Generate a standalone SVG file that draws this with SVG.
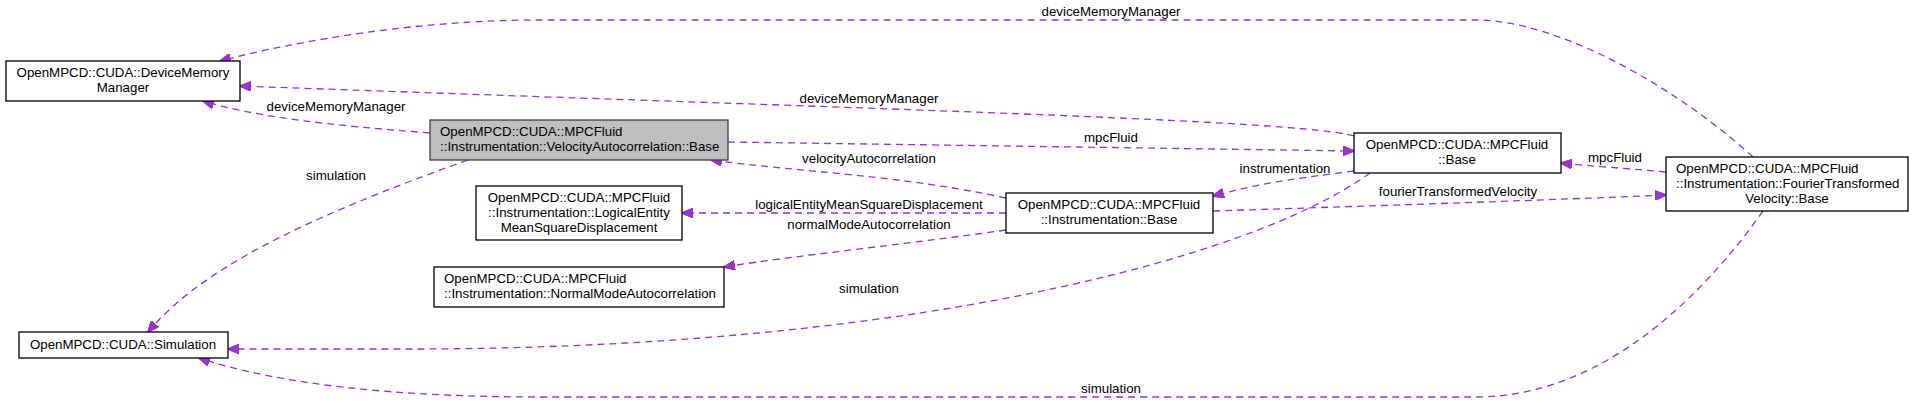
<svg xmlns="http://www.w3.org/2000/svg" width="1913" height="403" viewBox="0 0 1913 403">
<style>
.n rect{fill:#fff;stroke:#000;stroke-width:1.3}
.n.h rect{fill:#bfbfbf;stroke:#404040}
text{font-family:"Liberation Sans",Arial,sans-serif;font-size:13.3px;fill:#000;text-anchor:middle}
.e path{fill:none;stroke:#9a32cd;stroke-width:1.3;stroke-dasharray:7,5}
</style>
<defs>
<marker id="a" viewBox="0 0 12 10" refX="11" refY="5" markerWidth="12" markerHeight="10" markerUnits="userSpaceOnUse" orient="auto">
<path d="M0,0 L12,5 L0,10 Z" fill="#9a32cd" stroke="#9a32cd"/>
</marker>
</defs>
<g class="e">
<path d="M1753,157 C1680,90 1560,20 1476,20 L539,20 C420,20 300,40 220,61" marker-end="url(#a)"/>
<path d="M1354,136 C1300,120 900,110 240,86" marker-end="url(#a)"/>
<path d="M430,133 C330,125 260,118 203,101" marker-end="url(#a)"/>
<path d="M728,142 L1354,151" marker-end="url(#a)"/>
<path d="M1006,198 C900,175 800,172 711,160" marker-end="url(#a)"/>
<path d="M1354,171 C1300,178 1260,183 1213,196" marker-end="url(#a)"/>
<path d="M1006,213 L682,213" marker-end="url(#a)"/>
<path d="M1006,230 C900,245 800,255 724,267" marker-end="url(#a)"/>
<path d="M1213,211 C1400,205 1550,200 1666,195" marker-end="url(#a)"/>
<path d="M1666,172 C1620,168 1590,166 1561,163" marker-end="url(#a)"/>
<path d="M1370,173 C1250,260 900,350 400,349 L228,349" marker-end="url(#a)"/>
<path d="M468,160 C300,220 200,270 148,332" marker-end="url(#a)"/>
<path d="M1763,211 C1700,300 1600,397 1476,397 L540,397 C400,397 280,385 199,358" marker-end="url(#a)"/>
</g>
<g id="labels">
<text x="1111" y="16">deviceMemoryManager</text>
<text x="869" y="103">deviceMemoryManager</text>
<text x="336" y="111">deviceMemoryManager</text>
<text x="1111" y="142">mpcFluid</text>
<text x="869" y="163">velocityAutocorrelation</text>
<text x="1285" y="173">instrumentation</text>
<text x="869" y="209">logicalEntityMeanSquareDisplacement</text>
<text x="869" y="229">normalModeAutocorrelation</text>
<text x="1458" y="196">fourierTransformedVelocity</text>
<text x="1615" y="162">mpcFluid</text>
<text x="869" y="293">simulation</text>
<text x="336" y="180">simulation</text>
<text x="1111" y="393">simulation</text>
</g>
<g id="dmm" class="n"><rect x="6" y="61" width="234" height="40"/><text x="123" y="77">OpenMPCD::CUDA::DeviceMemory</text><text x="123" y="92">Manager</text></g>
<g id="va" class="n h"><rect x="430" y="120" width="298" height="40"/><text x="440" y="136" style="text-anchor:start">OpenMPCD::CUDA::MPCFluid</text><text x="440" y="151" style="text-anchor:start">::Instrumentation::VelocityAutocorrelation::Base</text></g>
<g id="le" class="n"><rect x="476" y="186" width="206" height="54"/><text x="579" y="202">OpenMPCD::CUDA::MPCFluid</text><text x="579" y="217">::Instrumentation::LogicalEntity</text><text x="579" y="232">MeanSquareDisplacement</text></g>
<g id="nm" class="n"><rect x="434" y="267" width="290" height="40"/><text x="444" y="283" style="text-anchor:start">OpenMPCD::CUDA::MPCFluid</text><text x="444" y="298" style="text-anchor:start">::Instrumentation::NormalModeAutocorrelation</text></g>
<g id="sim" class="n"><rect x="19" y="332" width="209" height="26"/><text x="123" y="349">OpenMPCD::CUDA::Simulation</text></g>
<g id="ib" class="n"><rect x="1006" y="193" width="207" height="40"/><text x="1109" y="209">OpenMPCD::CUDA::MPCFluid</text><text x="1109" y="224">::Instrumentation::Base</text></g>
<g id="mb" class="n"><rect x="1354" y="133" width="207" height="40"/><text x="1457" y="149">OpenMPCD::CUDA::MPCFluid</text><text x="1457" y="164">::Base</text></g>
<g id="ftv" class="n"><rect x="1666" y="157" width="242" height="54"/><text x="1676" y="173" style="text-anchor:start">OpenMPCD::CUDA::MPCFluid</text><text x="1676" y="188" style="text-anchor:start">::Instrumentation::FourierTransformed</text><text x="1787" y="203">Velocity::Base</text></g>
</svg>
